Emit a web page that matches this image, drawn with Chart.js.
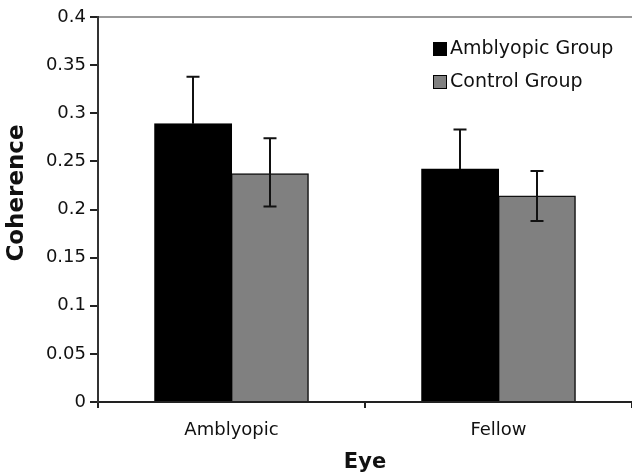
<!DOCTYPE html>
<html>
<head>
  <meta charset="UTF-8" />
  <title>Coherence by Eye</title>
  <script src="https://cdn.jsdelivr.net/npm/chart.js"></script>
  <style>
    html, body { margin: 0; padding: 0; background: #fff; overflow: hidden; }
  </style>
</head>
<body>
  <canvas id="cohChart" width="632" height="475"></canvas>
  <script>
    const eyes = ['Amblyopic', 'Fellow'];
    const groupNames = ['Amblyopic Group', 'Control Group'];
    const amblyopicMean = [0.289, 0.242];
    const amblyopicHigh = [0.338, 0.283];
    const amblyopicLow = [null, null];   // only the upper whisker is shown
    const controlMean = [0.237, 0.214];
    const controlHigh = [0.274, 0.240];
    const controlLow = [0.203, 0.188];
    const yTicks = [0, 0.05, 0.1, 0.15, 0.2, 0.25, 0.3, 0.35, 0.4];

    const font = 'DejaVu Sans, Verdana, sans-serif';

    // whiskers drawn from the bar tops through the y scale
    const errorBars = {
      id: 'errorBars',
      afterDatasetsDraw(chart) {
        const ctx = chart.ctx, y = chart.scales.y;
        ctx.save();
        ctx.strokeStyle = '#111';
        ctx.lineWidth = 2;
        chart.data.datasets.forEach((ds, i) => {
          chart.getDatasetMeta(i).data.forEach((bar, j) => {
            const x = Math.round(bar.x);
            const top = y.getPixelForValue(ds.errHigh[j]);
            const bot = ds.errLow[j] == null ? y.getPixelForValue(ds.data[j]) : y.getPixelForValue(ds.errLow[j]);
            ctx.beginPath();
            ctx.moveTo(x, top); ctx.lineTo(x, bot);
            ctx.moveTo(x - 6.5, top); ctx.lineTo(x + 6.5, top);
            if (ds.errLow[j] != null) { ctx.moveTo(x - 6.5, bot); ctx.lineTo(x + 6.5, bot); }
            ctx.stroke();
          });
        });
        ctx.restore();
      }
    };

    // legend inside the plot (top right) and the y title, which sits above centre
    const extras = {
      id: 'extras',
      afterDraw(chart) {
        const ctx = chart.ctx;
        ctx.save();
        ctx.font = '19px ' + font;
        ctx.textBaseline = 'middle';
        chart.data.datasets.forEach((ds, i) => {
          const cy = 49 + i * 33;
          ctx.fillStyle = ds.backgroundColor;
          ctx.fillRect(433.5, cy - 6.5, 13, 13);
          ctx.strokeStyle = '#000';
          ctx.lineWidth = 1;
          ctx.strokeRect(433.5, cy - 6.5, 13, 13);
          ctx.fillStyle = '#111';
          ctx.fillText(ds.label, 450, cy);
        });
        ctx.translate(17, 193);
        ctx.rotate(-Math.PI / 2);
        ctx.font = 'bold 23px ' + font;
        ctx.textAlign = 'center';
        ctx.fillText('Coherence', 0, 0);
        ctx.restore();
      }
    };

    new Chart(document.getElementById('cohChart'), {
      type: 'bar',
      data: {
        labels: eyes,
        datasets: [
          { label: groupNames[0], data: amblyopicMean, errHigh: amblyopicHigh, errLow: amblyopicLow,
            backgroundColor: '#000000', borderColor: '#000', borderWidth: 1, inflateAmount: 0.6 },
          { label: groupNames[1], data: controlMean, errHigh: controlHigh, errLow: controlLow,
            backgroundColor: '#808080', borderColor: '#111', borderWidth: 1.5, inflateAmount: 0.6 }
        ]
      },
      options: {
        responsive: false,
        maintainAspectRatio: false,
        animation: false,
        layout: { padding: { top: 17, right: 0, left: 0, bottom: 0 } },
        datasets: { bar: { categoryPercentage: 0.575, barPercentage: 1.0 } },
        plugins: { legend: { display: false }, tooltip: { enabled: false } },
        scales: {
          x: {
            afterFit: s => { s.height = 73; },
            grid: { offset: true, color: 'transparent', tickColor: '#222', tickLength: 6, lineWidth: 2 },
            border: { color: '#222', width: 2 },
            ticks: { color: '#111', font: { family: font, size: 18 }, padding: 12 },
            title: { display: true, text: 'Eye', color: '#111',
              font: { family: font, size: 21, weight: 'bold' }, padding: { top: 0, bottom: 0 } }
          },
          y: {
            min: 0, max: 0.4,
            afterFit: s => { s.width = 98; },
            afterBuildTicks: s => { s.ticks = yTicks.map(v => ({ value: v })); },
            grid: {
              color: c => (c.tick && c.tick.value === 0.4) ? '#999' : 'transparent',
              tickColor: '#222', tickLength: 8, lineWidth: 2
            },
            border: { color: '#333', width: 2 },
            ticks: { color: '#111', font: { family: font, size: 18 }, padding: 4, autoSkip: false,
              callback: v => String(v) },
            title: { display: false }
          }
        }
      },
      plugins: [errorBars, extras]
    });
  </script>
</body>
</html>
